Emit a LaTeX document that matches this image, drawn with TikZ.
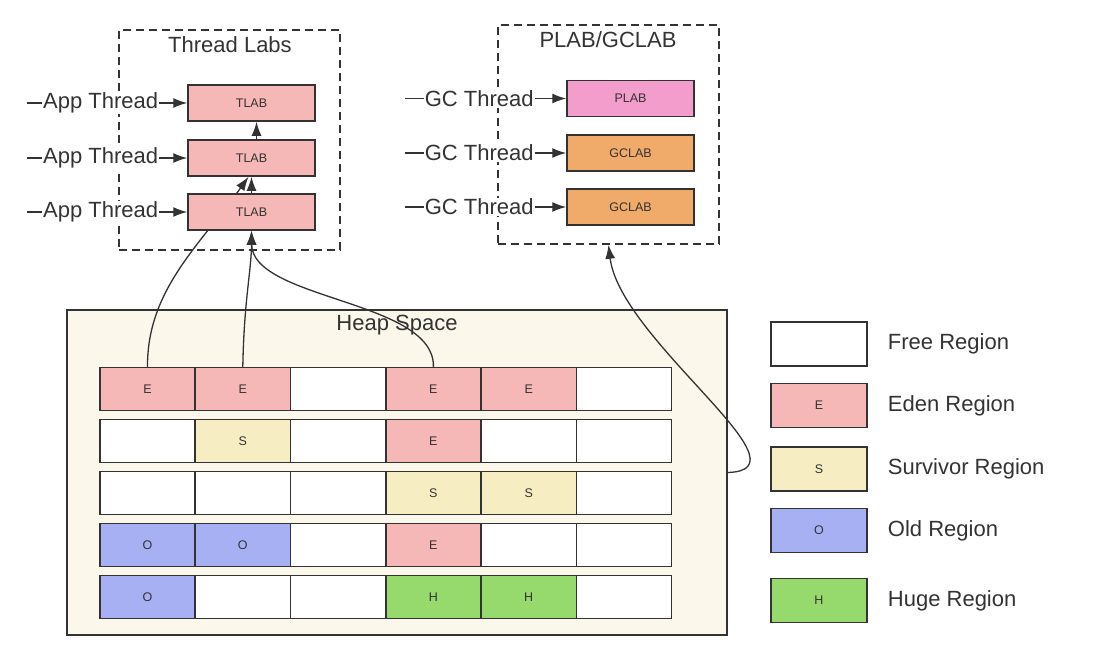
\documentclass[tikz,border=0pt]{standalone}
\usepackage{fontspec}
\setmainfont{Liberation Sans}
\usetikzlibrary{arrows.meta,positioning}

\definecolor{linegray}{HTML}{333333}
\definecolor{edenpink}{HTML}{F5B8B6}
\definecolor{plabpink}{HTML}{F29DCB}
\definecolor{gclaborange}{HTML}{F0AA6A}
\definecolor{survivoryellow}{HTML}{F6EEC2}
\definecolor{oldblue}{HTML}{A7B0F2}
\definecolor{hugegreen}{HTML}{96D96C}
\definecolor{heapcream}{HTML}{FBF8EB}

\pgfdeclarelayer{back}
\pgfdeclarelayer{wires}
\pgfsetlayers{back,wires,main}

\begin{document}
\begin{tikzpicture}[x=1pt, y=-1pt,
    bigtext/.style={text=linegray, font=\fontsize{22}{26}\selectfont, inner sep=1pt},
    smalltext/.style={text=linegray, font=\fontsize{12.5}{15}\selectfont},
    labbox/.style={draw=linegray, line width=1.5pt, minimum width=127pt, minimum height=36pt, inner sep=0pt, smalltext},
    dashbox/.style={draw=linegray, line width=1.5pt, dash pattern=on 8pt off 5pt, minimum width=221pt, minimum height=220pt},
    region/.style={draw=linegray, line width=1.5pt, minimum width=95.3pt, minimum height=43pt, inner sep=0pt, smalltext},
    kindF/.style={fill=white},
    kindE/.style={fill=edenpink},
    kindS/.style={fill=survivoryellow},
    kindO/.style={fill=oldblue},
    kindH/.style={fill=hugegreen},
    feed/.style={draw=linegray, line width=1.4pt, -{Latex[length=14pt,width=10pt]}},
    threadlabel/.style={bigtext, fill=white},
    wire/.style={draw=linegray, line width=1.3pt, -{Latex[length=14pt,width=10pt]}}]

    \useasboundingbox (0,0) rectangle (1094,659);

    % heap space background
    \begin{pgfonlayer}{back}
        \node[draw=linegray, line width=1.5pt, fill=heapcream, minimum width=660pt, minimum height=325pt] (heap) at (397,472.5) {};
        \node[bigtext] (heaptitle) at (397,325) {Heap Space};
    \end{pgfonlayer}

    % thread local buffers
    \node[dashbox] (tlabs) at (229.5,140) {};
    \node[bigtext] (tlabstitle) at (230,45) {Thread Labs};
    \foreach \i/\y in {1/103, 2/158, 3/212} {
        \node[labbox, fill=edenpink] (tlab\i) at (251.5,\y) {TLAB};
        \coordinate (app\i) at (27,\y);
        \draw[feed] (app\i) -- node[threadlabel, pos=0.46] (applabel\i) {App Thread} (tlab\i);
    }
    \draw[feed] (tlab3.north) -- (tlab2.south);
    \draw[feed] ([xshift=5pt]tlab2.north) -- ([xshift=5pt]tlab1.south);

    % promotion buffers
    \node[dashbox, minimum height=219pt] (plabs) at (608.5,134.5) {};
    \node[bigtext] (plabstitle) at (608,40) {PLAB/GCLAB};
    \node[labbox, fill=plabpink] (gc1) at (630.5,98.5) {PLAB};
    \node[labbox, fill=gclaborange] (gc2) at (630.5,153) {GCLAB};
    \node[labbox, fill=gclaborange] (gc3) at (630.5,207) {GCLAB};
    \foreach \i in {1,2,3} {
        \coordinate (gcthread\i) at (405,0 |- gc\i);
        \draw[feed] (gcthread\i) -- node[threadlabel, pos=0.46] (gclabel\i) {GC Thread} (gc\i);
    }

    % heap regions
    \foreach \kinds [count=\r] in {{E,E,F,E,E,F},{F,S,F,E,F,F},{F,F,F,S,S,F},{O,O,F,E,F,F},{O,F,F,H,H,F}} {
        \foreach \k [count=\c] in \kinds {
            \node[region, kind\k] (c\r\c) at ({52.2+95.3*\c},{337+52*\r}) {\if\k F\else\k\fi};
        }
    }

    % allocation links
    \begin{pgfonlayer}{wires}
        \draw[wire] (c11.north) .. controls (147,290) and (200,245) .. ([xshift=-3pt]tlab2.south);
        \draw[wire] (c12.north) .. controls (244,300) and (251.5,270) .. (tlab3.south);
        \draw[wire] (c14.north) .. controls (435,300) and (252,300) .. (tlab3.south);
        \draw[wire] (heap.east) .. controls (815,470) and (620,340) .. (plabs.south);
    \end{pgfonlayer}

    % legend
    \foreach \k/\y/\name in {F/344/Free, E/405.5/Eden, S/469/Survivor, O/530.5/Old, H/600.5/Huge} {
        \node[region, kind\k, minimum width=96pt, minimum height=44pt] (key\k) at (819,\y) {\if\k F\else\k\fi};
        \node[bigtext, right=19pt of key\k] (keytext\k) {\name\ Region};
    }
\end{tikzpicture}
\end{document}
